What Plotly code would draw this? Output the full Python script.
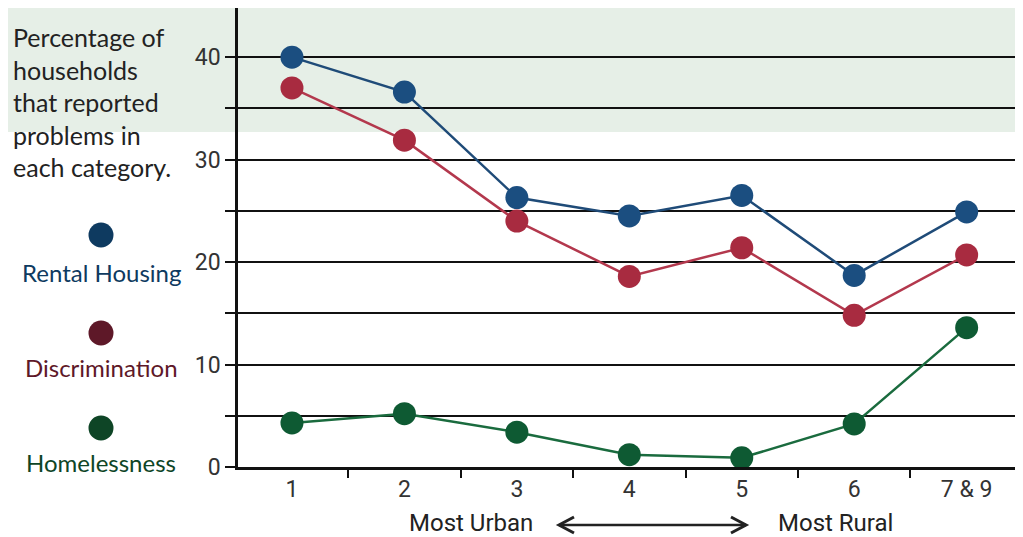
import plotly.graph_objects as go

categories = ["1", "2", "3", "4", "5", "6", "7 & 9"]
rental_housing = [40.0, 36.6, 26.3, 24.5, 26.5, 18.7, 24.9]
discrimination = [37.0, 31.9, 24.0, 18.6, 21.4, 14.8, 20.7]
homelessness = [4.3, 5.2, 3.4, 1.2, 0.9, 4.2, 13.6]
y_tickvals = [0, 5, 10, 15, 20, 25, 30, 35, 40]
y_ticktext = ["0", "", "10", "", "20", "", "30", "", "40"]

series = [
    ("Rental Housing", rental_housing, "#1f4b78", "#1b4e80"),
    ("Discrimination", discrimination, "#b3384d", "#a82b40"),
    ("Homelessness", homelessness, "#1a6b3e", "#0e5a33"),
]

fig = go.Figure()
for name, vals, lc, mc in series:
    fig.add_trace(go.Scatter(
        x=categories, y=vals, mode="lines+markers", name=name,
        line=dict(color=lc, width=2.5),
        marker=dict(color=mc, size=23, line=dict(width=0)),
        showlegend=False, cliponaxis=False,
    ))

OFF = 8  # page body margin
W, H = 1023 - OFF, 537 - OFF
# plot area in screenshot pixels: x 238..1015, y 8..467
PL, PR, PT, PB = 238, 1015, 8, 467
L = PL - OFF
R = W - (PR - OFF)
T = PT - OFF
B = H - (PB - OFF)
pw, ph = PR - PL, PB - PT


def px(x):
    return (x - PL) / pw


def py(y):
    return (PB - y) / ph


shapes = [
    dict(type="rect", xref="paper", yref="paper", x0=px(0), x1=px(1030), y0=py(132), y1=py(0),
         fillcolor="#e6efe7", line=dict(width=0), layer="below"),
]

# double arrow
ay = 525
shapes.append(dict(type="line", xref="paper", yref="paper", x0=px(559), x1=px(746), y0=py(ay), y1=py(ay),
                   line=dict(color="#222", width=2.5)))
for tip, back in [(559, 574), (746, 731)]:
    shapes.append(dict(type="path", xref="paper", yref="paper",
                       path=f"M {px(back)} {py(ay-8)} L {px(tip)} {py(ay)} L {px(back)} {py(ay+8)}",
                       line=dict(color="#222", width=3)))

legend_items = [
    ("Rental Housing", "#0e3a60", 235, 272),
    ("Discrimination", "#5e1828", 333, 367),
    ("Homelessness", "#0e4526", 428, 462),
]
annotations = [
    dict(text="Percentage of<br>households<br>that reported<br>problems in<br>each category.",
         xref="paper", yref="paper", x=px(11), y=py(20), xanchor="left", yanchor="top",
         align="left", showarrow=False, font=dict(family="Lato", size=25, color="#222")),
    dict(text="Most Urban", xref="paper", yref="paper", x=px(471), y=py(523), xanchor="center",
         yanchor="middle", showarrow=False,
         font=dict(family="Roboto", size=24, color="#222")),
    dict(text="Most Rural", xref="paper", yref="paper", x=px(835), y=py(523), xanchor="center",
         yanchor="middle", showarrow=False,
         font=dict(family="Roboto", size=24, color="#222")),
]
for name, col, dy, ty in legend_items:
    r = 12.5
    shapes.append(dict(type="circle", xref="paper", yref="paper", x0=px(101 - r), x1=px(101 + r),
                       y0=py(dy + r), y1=py(dy - r), fillcolor=col, line=dict(width=0)))
    annotations.append(dict(text=name, xref="paper", yref="paper", x=px(101), y=py(ty),
                            xanchor="center", yanchor="middle", showarrow=False,
                            font=dict(family="Lato", size=24, color=col)))

fig.update_layout(
    width=W, height=H,
    margin=dict(l=L, r=R, t=T, b=B),
    paper_bgcolor="white", plot_bgcolor="rgba(0,0,0,0)",
    shapes=shapes, annotations=annotations,
    xaxis=dict(type="category", range=[-0.48, 6.43], showgrid=False, showline=True,
               linecolor="#111", linewidth=2.5, ticks="outside", tickson="boundaries",
               ticklen=8, tickwidth=2, tickcolor="#111", zeroline=False,
               tickfont=dict(family="Roboto", size=23, color="#333")),
    yaxis=dict(range=[0, 44.8], tickvals=y_tickvals, ticktext=y_ticktext, showgrid=True,
               gridcolor="#111", gridwidth=2, showline=True, linecolor="#111", linewidth=2.5,
               ticks="outside", ticklen=10, tickwidth=2, tickcolor="#111", zeroline=False,
               tickfont=dict(family="Roboto", size=23, color="#333")),
)

fig.write_html("out.html")
